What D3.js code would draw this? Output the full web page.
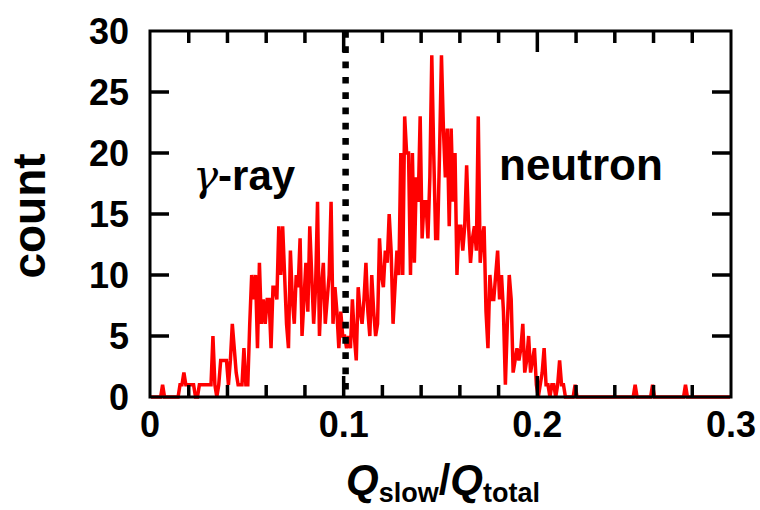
<!DOCTYPE html>
<html>
<head>
<meta charset="utf-8">
<script src="https://cdn.jsdelivr.net/npm/d3@7"></script>
<style>
  html, body { margin: 0; padding: 0; background: #fff; }
  svg { display: block; font-family: "Liberation Sans", Arial, Helvetica, sans-serif; }
</style>
</head>
<body>
<svg id="chart" width="760" height="510"></svg>
<script>
// ---- data ----
const binWidth = 0.001;
const counts = [
  0,0,0,0,0,0,1,0,0,0,
  0,0,0,0,0,1,1,2,1,1,
  1,1,1,0,0,1,1,1,1,1,
  1,1,5,1,0,1,3,3,3,3,
  1,3,6,4,2,1,1,1,4,1,
  1,6,10,8,10,4,11,6,8,6,
  8,8,4,9,9,8,14,10,14,10,
  6,4,12,8,6,10,9,13,5,8,
  11,7,14,10,6,9,16,5,9,11,
  6,8,10,16,6,9,7,4,7,5,
  5,4,5,4,8,5,3,9,7,6,
  8,11,7,5,10,7,5,6,13,10,
  9,12,11,15,12,6,9,12,10,20,
  10,23,20,20,10,20,11,18,16,23,
  13,16,16,13,18,28,20,13,13,20,
  28,22,18,22,14,22,16,20,10,14,
  14,12,14,19,14,11,13,14,12,23,
  11,13,14,7,4,10,8,8,10,12,
  8,10,7,1,6,10,8,2,3,4,
  3,4,6,2,3,5,2,3,4,1,
  0,1,2,4,1,1,0,1,1,0,
  1,3,1,1,0,0,0,0,0,1,
  0,0,0,0,0,0,0,0,0,0,
  0,0,0,0,0,0,0,0,0,0,
  0,0,0,0,0,0,0,0,0,0,
  1,0,0,0,0,0,0,0,0,1,
  0,0,0,0,0,0,0,0,0,0,
  0,0,0,0,0,0,1,0,0,0,
  0,0,0,0,0,0,0,0,0,0,
  0,0,0,0,0,0,0,0,0,0
];
const xTickLabels = [0, 0.1, 0.2, 0.3];
const xMinorTicks = [0.02,0.04,0.06,0.08,0.12,0.14,0.16,0.18,0.22,0.24,0.26,0.28];
const yTickLabels = [0, 5, 10, 15, 20, 25, 30];
const cutValue = 0.101;
const regionLabels = [{text: "neutron"}];

// ---- layout ----
const svg = d3.select("#chart");
const L = 150, R = 731, T = 31, B = 397;
const x = d3.scaleLinear().domain([0, 0.3]).range([L, R]);
const y = d3.scaleLinear().domain([0, 30]).range([B, T]);

const pts = counts.map((c, i) => [(i + 0.5) * binWidth, c]);

// data line
svg.append("path")
  .datum(pts)
  .attr("fill", "none")
  .attr("stroke", "#ff0000")
  .attr("stroke-width", 3.5)
  .attr("d", d3.line().x(d => x(d[0])).y(d => y(d[1])));

// cut line
svg.append("line")
  .attr("x1", x(cutValue)).attr("x2", x(cutValue))
  .attr("y1", y(30)).attr("y2", y(0))
  .attr("stroke", "#000")
  .attr("stroke-width", 6.5)
  .attr("stroke-dasharray", "6.7 8.6");

// frame
svg.append("rect")
  .attr("x", L).attr("y", T).attr("width", R - L).attr("height", B - T)
  .attr("fill", "none").attr("stroke", "#000").attr("stroke-width", 3);

const tk = svg.append("g").attr("stroke", "#000").attr("stroke-width", 3.5);
// y ticks left/right
yTickLabels.slice(1, -1).forEach(v => {
  tk.append("line").attr("x1", L).attr("x2", L + 19).attr("y1", y(v)).attr("y2", y(v));
  tk.append("line").attr("x1", R).attr("x2", R - 19).attr("y1", y(v)).attr("y2", y(v));
});
// x ticks bottom/top
xMinorTicks.forEach(v => {
  tk.append("line").attr("x1", x(v)).attr("x2", x(v)).attr("y1", B).attr("y2", B - 12);
  tk.append("line").attr("x1", x(v)).attr("x2", x(v)).attr("y1", T).attr("y2", T + 12);
});
xTickLabels.slice(1, -1).forEach(v => {
  tk.append("line").attr("x1", x(v)).attr("x2", x(v)).attr("y1", B).attr("y2", B - 21);
  tk.append("line").attr("x1", x(v)).attr("x2", x(v)).attr("y1", T).attr("y2", T + 21);
});

// tick labels
svg.append("g").selectAll("text").data(yTickLabels).join("text")
  .attr("x", 129).attr("y", d => y(d) + 13)
  .attr("text-anchor", "end")
  .attr("font-size", 36).attr("font-weight", "bold")
  .text(d => d);

svg.append("g").selectAll("text").data(xTickLabels).join("text")
  .attr("x", d => x(d)).attr("y", 437)
  .attr("text-anchor", "middle")
  .attr("font-size", 36).attr("font-weight", "bold")
  .text(d => d);

// axis titles
svg.append("text")
  .attr("transform", "translate(45,216) rotate(-90)")
  .attr("text-anchor", "middle")
  .attr("font-size", 46).attr("font-weight", "bold")
  .text("count");

const xt = svg.append("text")
  .attr("x", 443).attr("y", 494)
  .attr("text-anchor", "middle")
  .attr("font-size", 42).attr("font-weight", "bold");
xt.append("tspan").attr("font-style", "italic").text("Q");
xt.append("tspan").attr("font-size", 27).attr("dy", 8).text("slow");
xt.append("tspan").attr("dy", -8).text("/");
xt.append("tspan").attr("font-style", "italic").text("Q");
xt.append("tspan").attr("font-size", 27).attr("dy", 8).text("total");

// region labels
const g1 = svg.append("text")
  .attr("x", 193).attr("y", 190)
  .attr("font-size", 42).attr("font-weight", "bold");
g1.append("tspan").attr("font-weight", "normal").attr("font-family", "DejaVu Serif, serif").attr("font-style", "italic").text("γ");
g1.append("tspan").text("-ray");

svg.append("text")
  .attr("x", 499).attr("y", 180)
  .attr("font-size", 44).attr("font-weight", "bold")
  .text(regionLabels[0].text);
</script>
</body>
</html>
